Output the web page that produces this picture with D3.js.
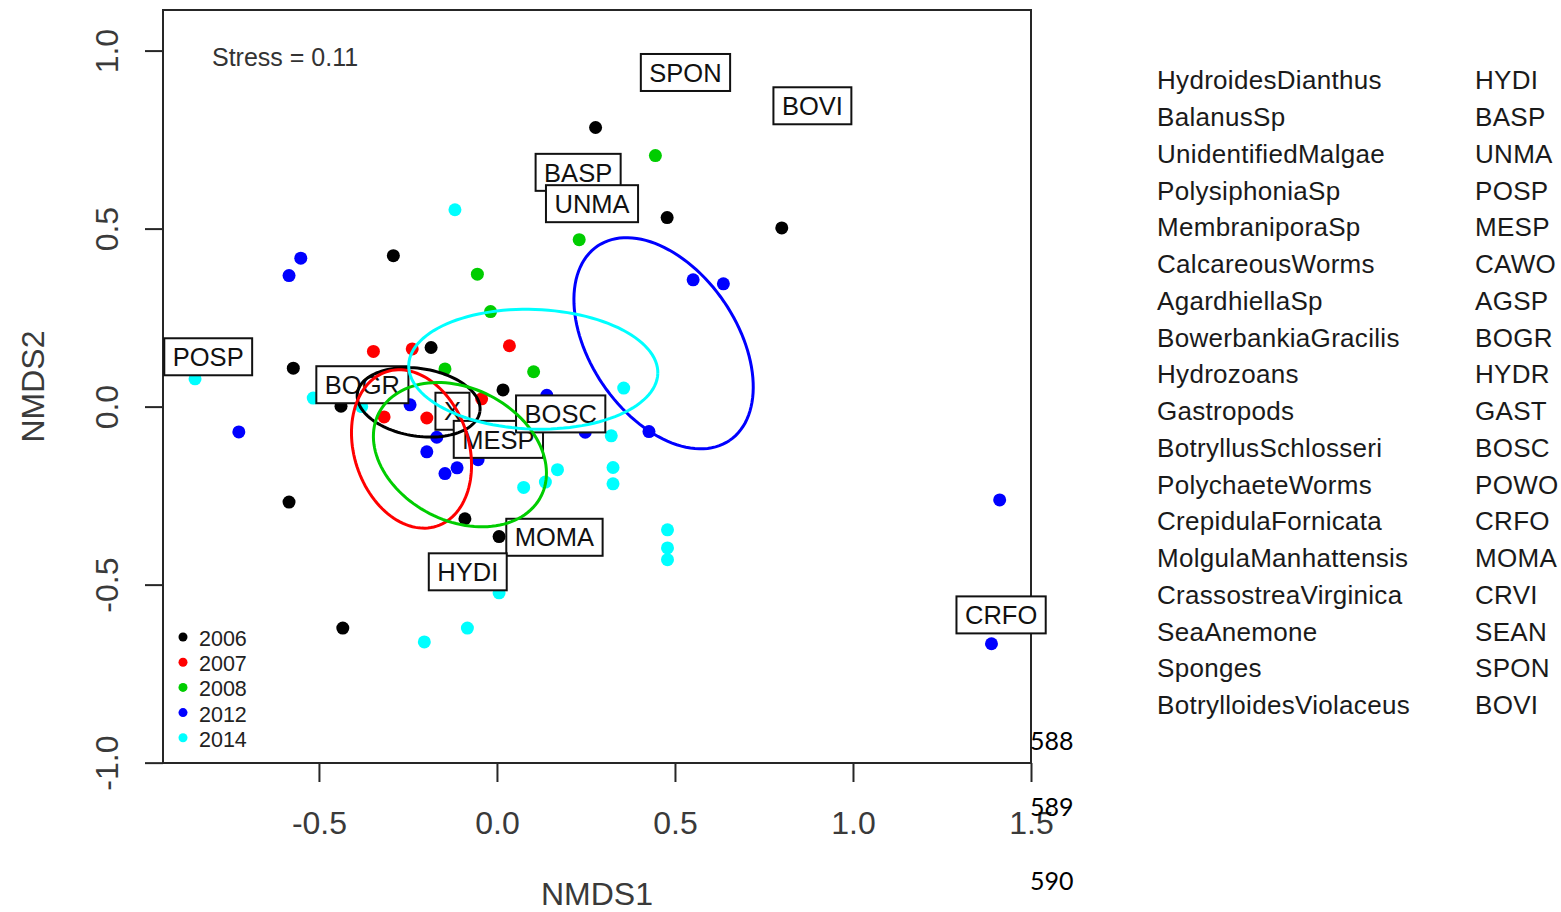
<!DOCTYPE html>
<html>
<head>
<meta charset="utf-8">
<script src="https://cdn.jsdelivr.net/npm/d3@7/dist/d3.min.js"></script>
<style>
  body { margin: 0; background: #fff; }
  svg text { font-family: "Liberation Sans", Arial, sans-serif; }
</style>
</head>
<body>
<div id="chart"></div>
<script>
// Years and the colours R used for them
const years = ['2006', '2007', '2008', '2012', '2014'];
const yearColors = ['#000000', '#ff0000', '#00cd00', '#0000ff', '#00ffff'];

// Site scores [NMDS1, NMDS2] per year
const sites2006 = [[0.277, 0.784], [0.478, 0.531], [0.800, 0.502], [-0.291, 0.424], [-0.185, 0.166],
  [-0.572, 0.108], [0.017, 0.047], [-0.438, 0.001], [-0.584, -0.268], [-0.090, -0.315],
  [0.006, -0.365], [-0.433, -0.622]];
const sites2007 = [[-0.347, 0.155], [-0.238, 0.162], [0.035, 0.171], [-0.317, -0.029],
  [-0.197, -0.032], [-0.043, 0.022]];
const sites2008 = [[0.445, 0.705], [0.231, 0.469], [-0.055, 0.372], [-0.018, 0.267],
  [-0.146, 0.106], [0.103, 0.098]];
const sites2012 = [[-0.551, 0.417], [-0.584, 0.368], [0.551, 0.356], [0.636, 0.345], [-0.244, 0.005],
  [-0.725, -0.071], [-0.169, -0.086], [-0.197, -0.127], [-0.146, -0.188], [-0.112, -0.172],
  [-0.053, -0.149], [0.140, 0.032], [0.248, -0.072], [0.427, -0.070], [1.412, -0.262], [1.389, -0.666]];
const sites2014 = [[-0.118, 0.553], [-0.848, 0.078], [-0.516, 0.024], [-0.380, 0.000], [0.356, 0.052],
  [0.321, -0.082], [0.326, -0.171], [0.326, -0.217], [0.170, -0.177], [0.136, -0.212],
  [0.075, -0.227], [0.479, -0.346], [0.479, -0.397], [0.479, -0.430], [0.006, -0.523],
  [-0.083, -0.622], [-0.204, -0.661]];
const sitesByYear = [sites2006, sites2007, sites2008, sites2012, sites2014];

// Ellipses per year: centre, semi axes and rotation (degrees)
const ellipseCX = [-0.220, -0.240, -0.104, 0.468, 0.102];
const ellipseCY = [0.012, -0.119, -0.135, 0.178, 0.105];
const ellipseA = [0.174, 0.228, 0.256, 0.330, 0.350];
const ellipseB = [0.095, 0.161, 0.186, 0.206, 0.168];
const ellipseAngle = [-8.7, -71.9, -27.2, -55.8, -2];

// Species labels drawn in boxes (drawing order matters)
const labelCodes = ['SPON', 'BOVI', 'BASP', 'UNMA', 'POSP', 'BOGR', 'X', 'MESP', 'BOSC', 'MOMA', 'HYDI', 'CRFO'];
const labelX = [0.5295, 0.886, 0.228, 0.267, -0.811, -0.378, -0.125, 0.004, 0.179, 0.1615, -0.082, 1.416];
const labelY = [0.9385, 0.845, 0.658, 0.570, 0.140, 0.0615, -0.013, -0.092, -0.0205, -0.367, -0.464, -0.585];

// Species key on the right
const speciesNames = ['HydroidesDianthus', 'BalanusSp', 'UnidentifiedMalgae', 'PolysiphoniaSp',
  'MembraniporaSp', 'CalcareousWorms', 'AgardhiellaSp', 'BowerbankiaGracilis', 'Hydrozoans',
  'Gastropods', 'BotryllusSchlosseri', 'PolychaeteWorms', 'CrepidulaFornicata',
  'MolgulaManhattensis', 'CrassostreaVirginica', 'SeaAnemone', 'Sponges', 'BotrylloidesViolaceus'];
const speciesCodes = ['HYDI', 'BASP', 'UNMA', 'POSP', 'MESP', 'CAWO', 'AGSP', 'BOGR', 'HYDR',
  'GAST', 'BOSC', 'POWO', 'CRFO', 'MOMA', 'CRVI', 'SEAN', 'SPON', 'BOVI'];

const xTicks = [-0.5, 0.0, 0.5, 1.0, 1.5];
const yTicks = [-1.0, -0.5, 0.0, 0.5, 1.0];
const lineNumbers = ['588', '589', '590'];

const W = 1561, H = 912;
const plot = { left: 163, right: 1031, top: 10, bottom: 763 };

const svg = d3.select('#chart').append('svg')
  .attr('width', W).attr('height', H);

const x = d3.scaleLinear().domain([-0.938, 1.5]).range([plot.left, plot.right]);
const y = d3.scaleLinear().domain([-1.001, 1.114]).range([plot.bottom, plot.top]);

const ink = '#262626';

// Box
svg.append('rect')
  .attr('x', plot.left).attr('y', plot.top)
  .attr('width', plot.right - plot.left).attr('height', plot.bottom - plot.top)
  .attr('fill', 'none').attr('stroke', ink).attr('stroke-width', 2);

// Axes
const xAxis = svg.append('g')
  .attr('transform', `translate(0,${plot.bottom})`)
  .call(d3.axisBottom(x).tickValues(xTicks).tickSize(19).tickPadding(29).tickFormat(d => d.toFixed(1)));
xAxis.select('.domain').remove();
xAxis.selectAll('line').attr('stroke', ink).attr('stroke-width', 2);
xAxis.selectAll('text').attr('fill', '#3a3a3a').style('font-size', '32px');

const yAxis = svg.append('g')
  .attr('transform', `translate(${plot.left},0)`)
  .call(d3.axisLeft(y).tickValues(yTicks).tickSize(18).tickFormat(d => d.toFixed(1)));
yAxis.select('.domain').remove();
yAxis.selectAll('line').attr('stroke', ink).attr('stroke-width', 2);
yAxis.selectAll('text')
  .attr('x', null).attr('dy', null)
  .attr('text-anchor', 'middle')
  .attr('transform', 'translate(-45,0) rotate(-90)')
  .attr('fill', '#3a3a3a').style('font-size', '32px');

// Axis titles
svg.append('text')
  .attr('x', (plot.left + plot.right) / 2).attr('y', 905)
  .attr('text-anchor', 'middle').attr('fill', '#3a3a3a')
  .style('font-size', '32px').text('NMDS1');
svg.append('text')
  .attr('transform', `translate(44,${(plot.top + plot.bottom) / 2}) rotate(-90)`)
  .attr('text-anchor', 'middle').attr('fill', '#3a3a3a')
  .style('font-size', '32px').text('NMDS2');

// Site points
years.forEach((yr, i) => {
  svg.append('g').selectAll('circle')
    .data(sitesByYear[i]).enter().append('circle')
    .attr('cx', d => x(d[0])).attr('cy', d => y(d[1]))
    .attr('r', 6.5).attr('fill', yearColors[i]);
});

// Species labels with white boxes
labelCodes.forEach((code, i) => {
  const g = svg.append('g').attr('transform', `translate(${x(labelX[i])},${y(labelY[i])})`);
  const rect = g.append('rect').attr('fill', '#fff').attr('stroke', '#111').attr('stroke-width', 2);
  const t = g.append('text')
    .attr('text-anchor', 'middle').attr('dy', '0.36em')
    .attr('fill', '#111').style('font-size', '25.5px').text(code);
  const w = t.node().getComputedTextLength() + 17;
  rect.attr('x', -w / 2).attr('y', -18.5).attr('width', w).attr('height', 37);
});

// Ellipses
const line = d3.line();
years.forEach((yr, i) => {
  const th = ellipseAngle[i] * Math.PI / 180;
  const pts = d3.range(0, 121).map(k => {
    const t = k / 120 * 2 * Math.PI;
    const ex = ellipseCX[i] + ellipseA[i] * Math.cos(t) * Math.cos(th) - ellipseB[i] * Math.sin(t) * Math.sin(th);
    const ey = ellipseCY[i] + ellipseA[i] * Math.cos(t) * Math.sin(th) + ellipseB[i] * Math.sin(t) * Math.cos(th);
    return [x(ex), y(ey)];
  });
  svg.append('path')
    .attr('d', line(pts))
    .attr('fill', 'none').attr('stroke', yearColors[i]).attr('stroke-width', 3);
});

// Stress annotation
svg.append('text')
  .attr('x', 212).attr('y', 66)
  .attr('fill', '#333').style('font-size', '25px').text('Stress = 0.11');

// Year legend
const legend = svg.append('g').attr('transform', 'translate(183,637)');
years.forEach((yr, i) => {
  legend.append('circle').attr('cx', 0).attr('cy', i * 25.2).attr('r', 4.5).attr('fill', yearColors[i]);
  legend.append('text').attr('x', 16).attr('y', i * 25.2 + 9)
    .attr('fill', '#222').style('font-size', '21.5px').text(yr);
});

// Species key
const key = svg.append('g');
speciesNames.forEach((name, i) => {
  const by = 89.3 + i * 36.76;
  key.append('text').attr('x', 1157).attr('y', by)
    .attr('fill', '#1a1a1a').style('font-size', '26px').style('letter-spacing', '0.3px').text(name);
  key.append('text').attr('x', 1475).attr('y', by)
    .attr('fill', '#1a1a1a').style('font-size', '26px').style('letter-spacing', '0.3px').text(speciesCodes[i]);
});

// Stray document line numbers
const lineY = [750, 816, 890];
lineNumbers.forEach((n, i) => {
  svg.append('text').attr('x', 1030).attr('y', lineY[i])
    .attr('fill', '#000').style('font-family', 'Lato, "Open Sans", sans-serif')
    .style('font-size', '25px').text(n);
});
</script>
</body>
</html>
